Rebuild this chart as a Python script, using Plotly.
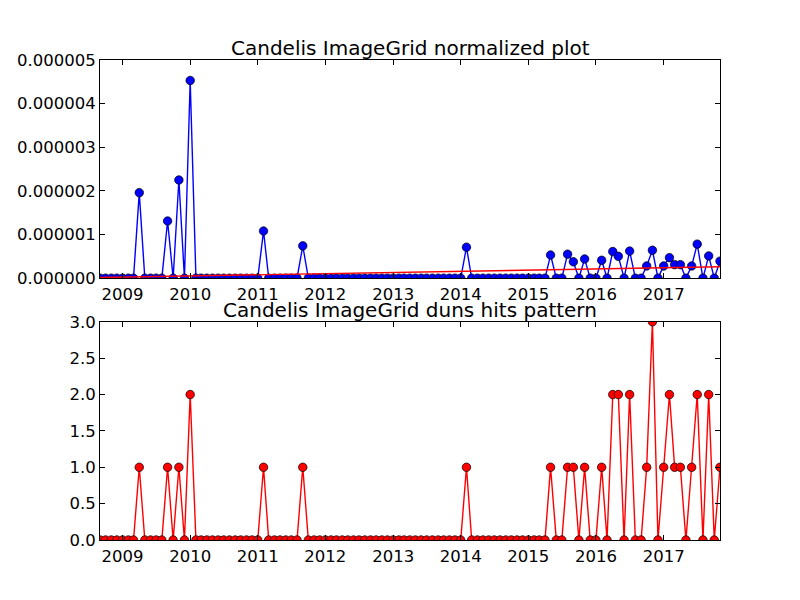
import pandas as pd
import plotly.graph_objects as go

# monthly samples, Sep 2008 .. Nov 2017
months = pd.date_range("2008-09-01", "2017-11-01", freq="MS")

# duns hits per month (one row per year)
hits = (
    [0, 0, 0, 0]                                   # 2008 Sep-Dec
    + [0, 0, 0, 1, 0, 0, 0, 0, 1, 0, 1, 0]         # 2009
    + [2, 0, 0, 0, 0, 0, 0, 0, 0, 0, 0, 0]         # 2010
    + [0, 1, 0, 0, 0, 0, 0, 0, 1, 0, 0, 0]         # 2011
    + [0, 0, 0, 0, 0, 0, 0, 0, 0, 0, 0, 0]         # 2012
    + [0, 0, 0, 0, 0, 0, 0, 0, 0, 0, 0, 0]         # 2013
    + [0, 1, 0, 0, 0, 0, 0, 0, 0, 0, 0, 0]         # 2014
    + [0, 0, 0, 0, 1, 0, 0, 1, 1, 0, 1, 0]         # 2015
    + [0, 1, 0, 2, 2, 0, 2, 0, 0, 1, 3, 0]         # 2016
    + [1, 2, 1, 1, 0, 1, 2, 0, 2, 0, 1]            # 2017 Jan-Nov
)

# normalized hits, in units of 1e-6
normalized_e6 = (
    [0, 0, 0, 0]
    + [0, 0, 0, 1.96, 0, 0, 0, 0, 1.31, 0, 2.25, 0]
    + [4.53, 0, 0, 0, 0, 0, 0, 0, 0, 0, 0, 0]
    + [0, 1.08, 0, 0, 0, 0, 0, 0, 0.74, 0, 0, 0]
    + [0, 0, 0, 0, 0, 0, 0, 0, 0, 0, 0, 0]
    + [0, 0, 0, 0, 0, 0, 0, 0, 0, 0, 0, 0]
    + [0, 0.71, 0, 0, 0, 0, 0, 0, 0, 0, 0, 0]
    + [0, 0, 0, 0, 0.53, 0, 0, 0.55, 0.375, 0, 0.44, 0]
    + [0, 0.41, 0, 0.61, 0.50, 0, 0.62, 0, 0, 0.28, 0.64, 0]
    + [0.28, 0.47, 0.31, 0.31, 0, 0.28, 0.78, 0, 0.51, 0, 0.39]
)
normalized = [v * 1e-6 for v in normalized_e6]

# linear trend drawn over the normalized plot (end points)
trend_dates = [months[0], months[-1]]
trend_values = [0.015e-6, 0.26e-6]

FONT = "DejaVu Sans"

traces = [
    go.Scatter(
        x=months, y=normalized, mode="lines+markers",
        line=dict(color="#0000ff", width=1.4),
        marker=dict(color="#0000ff", size=8.5, line=dict(color="black", width=0.7)),
        xaxis="x", yaxis="y", cliponaxis=True,
    ),
    go.Scatter(
        x=trend_dates, y=trend_values, mode="lines",
        line=dict(color="#ff0000", width=1.4),
        xaxis="x", yaxis="y",
    ),
    go.Scatter(
        x=months, y=hits, mode="lines+markers",
        line=dict(color="#ff0000", width=1.4),
        marker=dict(color="#ff0000", size=8.5, line=dict(color="black", width=0.7)),
        xaxis="x2", yaxis="y2", cliponaxis=True,
    ),
]

fig = go.Figure(data=traces)

axis_style = dict(
    showline=True, linecolor="black", linewidth=1, mirror="ticks",
    ticks="inside", ticklen=5, tickcolor="black", tickwidth=1,
    showgrid=False, zeroline=False, automargin=False,
    tickfont=dict(family=FONT, size=16.5, color="black"),
)
x_style = dict(
    axis_style, type="date", range=[months[0], months[-1]],
    tick0="2009-01-01", dtick="M12", tickformat="%Y", ticklabelstandoff=1,
)

fig.update_layout(
    width=800, height=600,
    margin=dict(l=100, r=80, t=60, b=60),
    paper_bgcolor="white", plot_bgcolor="white",
    showlegend=False,
    font=dict(family=FONT, color="black"),
    xaxis=dict(x_style, anchor="y"),
    yaxis=dict(axis_style, domain=[0.5455, 1], range=[0, 5e-6],
               dtick=1e-6, tickformat=".6f", anchor="x"),
    xaxis2=dict(x_style, anchor="y2"),
    yaxis2=dict(axis_style, domain=[0, 0.4545], range=[0, 3],
                dtick=0.5, tickformat=".1f", anchor="x2"),
    annotations=[
        dict(text="Candelis ImageGrid normalized plot", xref="x domain", yref="y domain",
             x=0.5, y=1, xanchor="center", yanchor="bottom", yshift=-2, showarrow=False,
             font=dict(family=FONT, size=20, color="black")),
        dict(text="Candelis ImageGrid duns hits pattern", xref="x2 domain", yref="y2 domain",
             x=0.5, y=1, xanchor="center", yanchor="bottom", yshift=-2, showarrow=False,
             font=dict(family=FONT, size=20, color="black")),
    ],
)

# drop the browser's default 8px body margin so the figure sits at 0,0
fig.write_html("out.html", config={"displayModeBar": False},
               post_script="document.body.style.margin='0';")
